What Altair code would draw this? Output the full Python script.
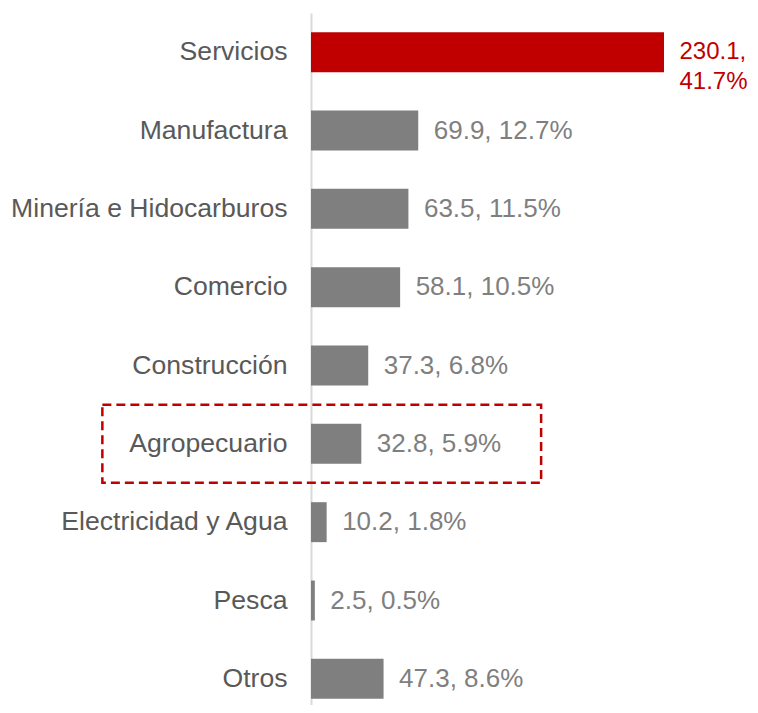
import altair as alt
import pandas as pd

SECTORS = ["Servicios", "Manufactura", "Minería e Hidocarburos", "Comercio",
           "Construcción", "Agropecuario", "Electricidad y Agua", "Pesca", "Otros"]
VALUES = [230.1, 69.9, 63.5, 58.1, 37.3, 32.8, 10.2, 2.5, 47.3]
SHARES = [41.7, 12.7, 11.5, 10.5, 6.8, 5.9, 1.8, 0.5, 8.6]
HIGHLIGHT = "Servicios"
BOXED = "Agropecuario"
BOX_X = [-136, 150]

labels = []
for s, v, p in zip(SECTORS, VALUES, SHARES):
    sep = ",\n" if s == HIGHLIGHT else ", "
    labels.append(f"{v:.1f}{sep}{p:.1f}%")

df = pd.DataFrame({"Sector": SECTORS, "Valor": VALUES, "Label": labels})
box_df = pd.DataFrame({"Sector": [BOXED], "x0": [BOX_X[0]], "x1": [BOX_X[1]]})

FONT = "Liberation Sans"
RED = "#C00000"
GRAY = "#7F7F7F"

y_enc = alt.Y("Sector:N", sort=SECTORS, title=None,
              scale=alt.Scale(paddingInner=0.49, paddingOuter=0.245, range=[0, 705]),
              axis=alt.Axis(domainColor="#D9D9D9", domainWidth=2, ticks=False,
                            labelFontSize=26.6, labelColor="#595959", labelFont=FONT,
                            labelPadding=24, labelLimit=400, grid=False))
x_enc = alt.X("Valor:Q", axis=None, scale=alt.Scale(domain=[0, 230.1], nice=False, zero=True))

is_hi = alt.datum.Sector == HIGHLIGHT
color_cond = alt.condition(is_hi, alt.value(RED), alt.value(GRAY))
size_cond = alt.condition(is_hi, alt.value(24), alt.value(26))

bars = alt.Chart(df).mark_bar().encode(y=y_enc, x=x_enc, color=color_cond)

text = alt.Chart(df).mark_text(align="left", baseline="middle", dx=15.5,
                               font=FONT, lineBreak="\n", lineHeight=30).encode(
    y=alt.Y("Sector:N", sort=SECTORS), x="Valor:Q", text="Label:N",
    color=color_cond, size=size_cond)

box = alt.Chart(box_df).mark_bar(height=78, fill="transparent", stroke=RED,
                                 strokeDash=[9, 5], strokeWidth=2.5).encode(
    y=alt.Y("Sector:N", sort=SECTORS), x="x0:Q", x2="x1:Q")

chart = alt.layer(bars, text, box).properties(
    width=353, height=692,
    autosize=alt.AutoSizeParams(type="none"),
    padding={"left": 303, "top": 5, "right": 86, "bottom": 0},
).configure_view(stroke=None)

chart.save("out.html", embed_options={"renderer": "svg", "actions": False})
